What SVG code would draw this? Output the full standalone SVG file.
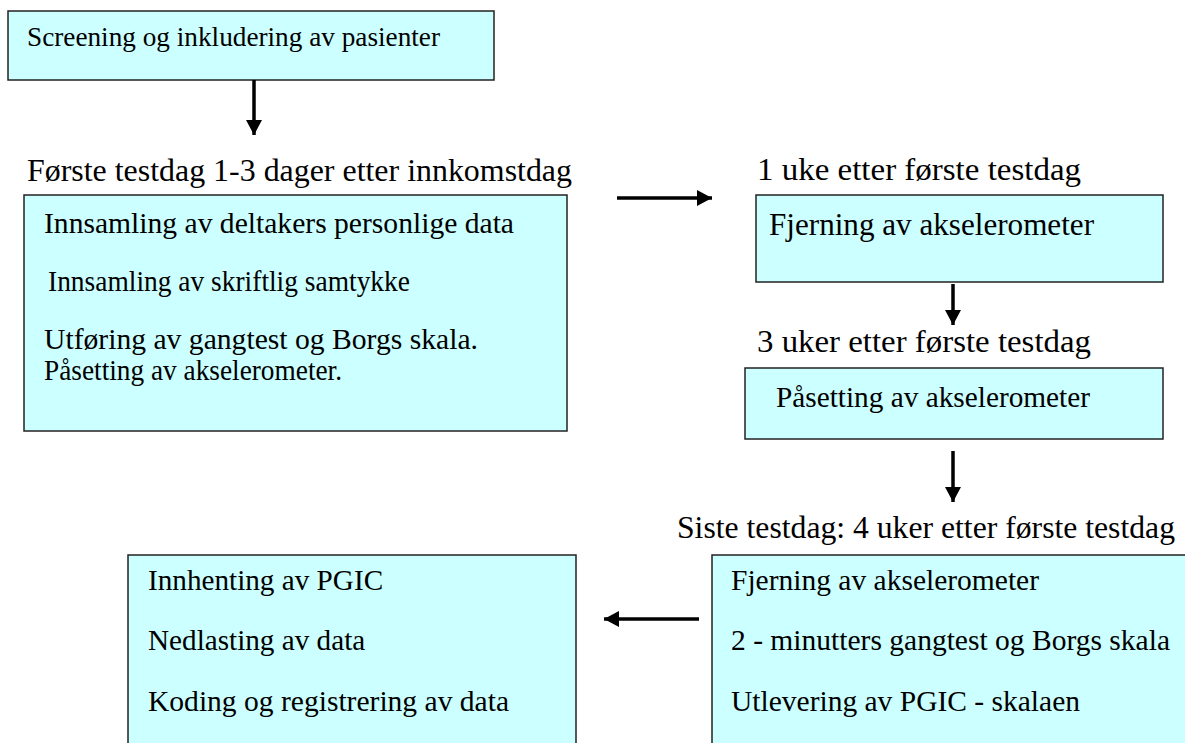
<svg xmlns="http://www.w3.org/2000/svg" width="1185" height="743" viewBox="0 0 1185 743" font-family="'Liberation Serif', 'Times New Roman', serif">
<style>
.box{fill:#CCFFFF;stroke:#222;stroke-width:1.5}
.t{font-family:'Liberation Serif', 'Times New Roman', serif;fill:#000}
.conn{stroke:#000;stroke-width:3.5;fill:none;marker-end:url(#ah)}
</style>
<defs>
<marker id="ah" markerUnits="userSpaceOnUse" markerWidth="16" markerHeight="16" refX="15" refY="8" orient="auto" viewBox="0 0 16 16">
<path d="M0,0 L15,8 L0,16 z" fill="#000"/>
</marker>
</defs>
<rect width="1185" height="743" fill="#fff"/>
<g id="screening">
<rect class="box" x="8" y="11" width="486" height="69"/>
<text class="t" x="27" y="46" font-size="27" textLength="413" lengthAdjust="spacingAndGlyphs">Screening og inkludering av pasienter</text>
</g>
<g id="label-forste">
<text class="t" x="27" y="181" font-size="31.5" textLength="545" lengthAdjust="spacingAndGlyphs">Første testdag 1-3 dager etter innkomstdag</text>
</g>
<g id="forste-testdag">
<rect class="box" x="24" y="195" width="543" height="236"/>
<text class="t" x="44" y="233" font-size="29.5" textLength="470" lengthAdjust="spacingAndGlyphs">Innsamling av deltakers personlige data</text>
<text class="t" x="48" y="291" font-size="29.5" textLength="362" lengthAdjust="spacingAndGlyphs">Innsamling av skriftlig samtykke</text>
<text class="t" x="44" y="349" font-size="29.5" textLength="434" lengthAdjust="spacingAndGlyphs">Utføring av gangtest og Borgs skala.</text>
<text class="t" x="44" y="380" font-size="29.5" textLength="298" lengthAdjust="spacingAndGlyphs">Påsetting av akselerometer.</text>
</g>
<g id="label-1uke">
<text class="t" x="757" y="180" font-size="32.5" textLength="324" lengthAdjust="spacingAndGlyphs">1 uke etter første testdag</text>
</g>
<g id="fjerning1">
<rect class="box" x="756" y="195" width="407" height="87"/>
<text class="t" x="769" y="235" font-size="30.5" textLength="325" lengthAdjust="spacingAndGlyphs">Fjerning av akselerometer</text>
</g>
<g id="label-3uker">
<text class="t" x="757" y="352" font-size="32.5" textLength="334" lengthAdjust="spacingAndGlyphs">3 uker etter første testdag</text>
</g>
<g id="pasetting">
<rect class="box" x="745" y="368" width="418" height="71"/>
<text class="t" x="776" y="407" font-size="29.5" textLength="314" lengthAdjust="spacingAndGlyphs">Påsetting av akselerometer</text>
</g>
<g id="label-siste">
<text class="t" x="677" y="538" font-size="31.5" textLength="498" lengthAdjust="spacingAndGlyphs">Siste testdag: 4 uker etter første testdag</text>
</g>
<g id="siste-testdag">
<rect class="box" x="712" y="555" width="480" height="200"/>
<text class="t" x="731" y="590" font-size="29.5">Fjerning av akselerometer</text>
<text class="t" x="731" y="650" font-size="29.5" textLength="439" lengthAdjust="spacingAndGlyphs">2 - minutters gangtest og Borgs skala</text>
<text class="t" x="731" y="711" font-size="29.5">Utlevering av PGIC - skalaen</text>
</g>
<g id="avslutning">
<rect class="box" x="128" y="555" width="448" height="200"/>
<text class="t" x="148" y="590" font-size="29.2">Innhenting av PGIC</text>
<text class="t" x="148" y="650" font-size="29.2">Nedlasting av data</text>
<text class="t" x="148" y="711" font-size="29.5" textLength="361" lengthAdjust="spacingAndGlyphs">Koding og registrering av data</text>
</g>
<g id="connectors">
<line class="conn" x1="254" y1="80" x2="254" y2="135"/>
<line class="conn" x1="617" y1="198" x2="712" y2="198"/>
<line class="conn" x1="953" y1="284" x2="953" y2="325"/>
<line class="conn" x1="953" y1="451" x2="953" y2="502"/>
<line class="conn" x1="699" y1="619" x2="604" y2="619"/>
</g>
</svg>
